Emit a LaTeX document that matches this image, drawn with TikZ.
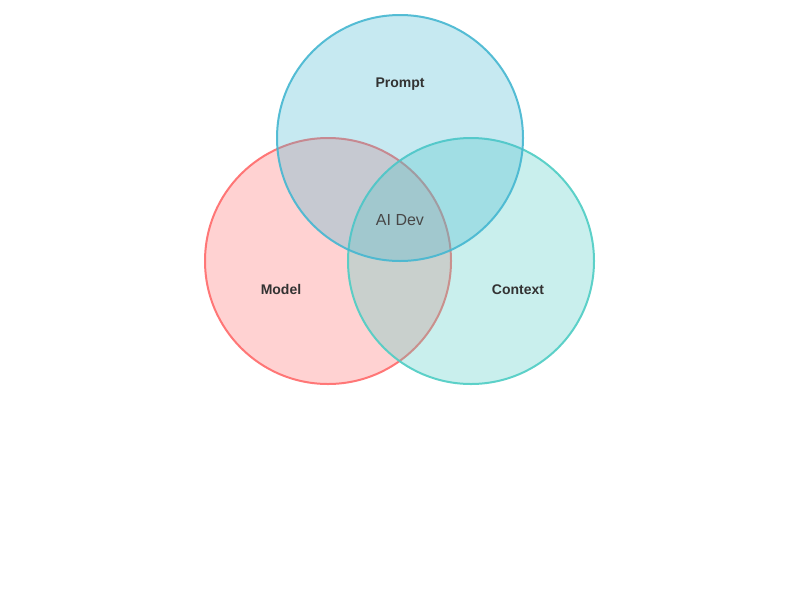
\documentclass[tikz,border=0pt]{standalone}
\usepackage{fontspec}
\setmainfont{Liberation Sans}
\definecolor{cred}{HTML}{FF6B6B}
\definecolor{cteal}{HTML}{4ECDC4}
\definecolor{cblue}{HTML}{45B7D1}
\definecolor{txt}{HTML}{333333}
\begin{document}
\begin{tikzpicture}[x=1pt,y=-1pt,
  venn/.style={line width=2pt,fill opacity=0.3,draw opacity=0.9},
  lbl/.style={font=\fontsize{14}{16}\selectfont\bfseries,text=txt},
  clbl/.style={font=\fontsize{16}{18}\selectfont,text=txt!90}]
\useasboundingbox (0,0) rectangle (800,600);
\fill[white] (0,0) rectangle (800,600);
\draw[venn,draw=cred,fill=cred] (328,261) circle[radius=123];
\draw[venn,draw=cteal,fill=cteal] (471,261) circle[radius=123];
\draw[venn,draw=cblue,fill=cblue] (400,138) circle[radius=123];
\node[lbl] (prompt) at (400,84.5) {Prompt};
\node[lbl] (model) at (281,289.5) {Model};
\node[lbl] (context) at (518,290) {Context};
\node[clbl] (center) at (400,220) {AI Dev};
\end{tikzpicture}
\end{document}
